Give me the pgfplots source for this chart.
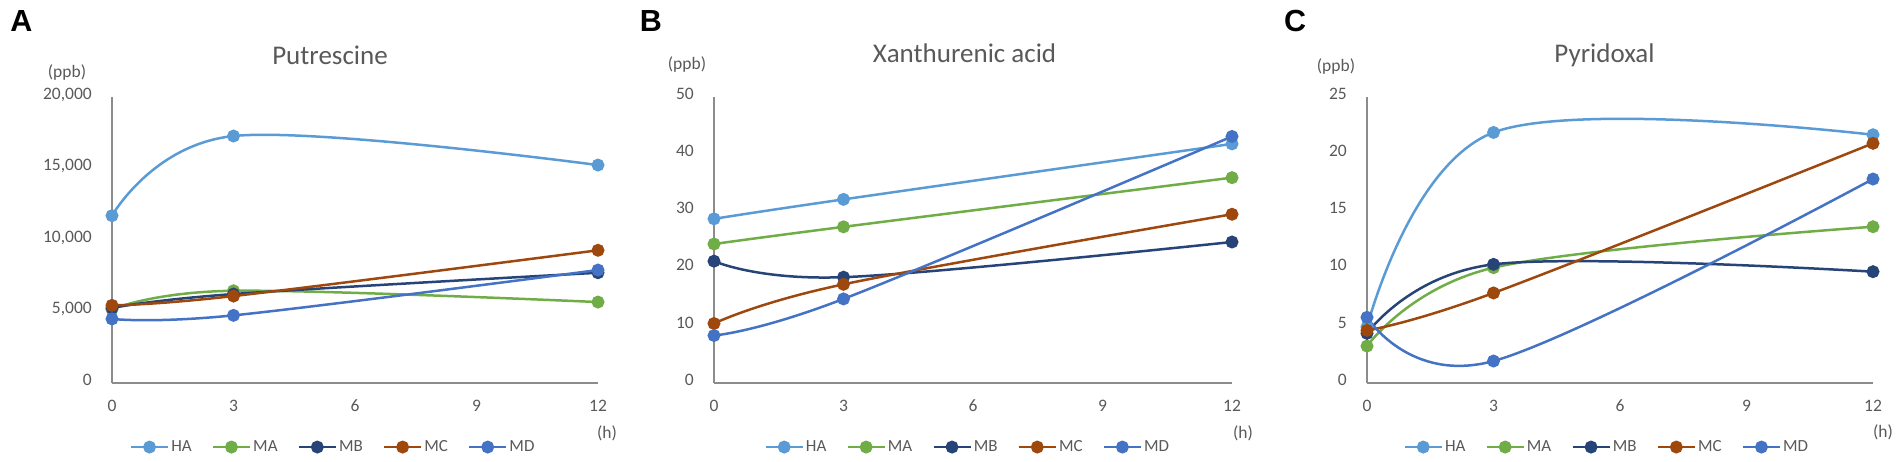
\documentclass[border=0pt]{standalone}
\usepackage{fontspec}
\setmainfont{Carlito}
\newfontfamily\letterfont{Liberation Sans}
\usepackage{pgfplots}
\pgfplotsset{compat=1.18}

\definecolor{cHA}{HTML}{5B9BD5}
\definecolor{cMA}{HTML}{70AD47}
\definecolor{cMB}{HTML}{264478}
\definecolor{cMC}{HTML}{9E480E}
\definecolor{cMD}{HTML}{4472C4}
\definecolor{txt}{HTML}{595959}
\definecolor{axc}{HTML}{8C8C8C}

\pgfplotsset{
  panel/.style={
    scale only axis, height=286pt,
    xmin=0, xmax=12, ymin=0,
    xtick={0,3,6,9,12},
    axis lines*=left,
    axis line style={axc, line width=1.4pt, -},
    major tick length=0pt,
    tick style={draw=none},
    clip=false,
    ticklabel style={font=\fontsize{17.5}{21}\selectfont, text=txt, inner sep=0pt},
    xticklabel style={anchor=base, yshift=-29pt},
    yticklabel style={anchor=mid east, xshift=-20pt},
    /pgf/number format/assume math mode=true,
    /pgf/number format/1000 sep={,},
    scaled y ticks=false,
    every axis plot/.append style={smooth, tension=0.6, line width=2.5pt,
      mark=*, mark size=5.2pt, mark options={solid}},
    legend columns=5,
    legend style={draw=none, fill=none, font=\fontsize{17}{20}\selectfont,
      text=txt, anchor=center,
      /tikz/every even column/.append style={column sep=18pt}},
    legend image code/.code={\draw[sharp plot, mark repeat=2, mark phase=2]
      plot coordinates {(0pt,0pt) (18.5pt,0pt) (37pt,0pt)};},
  }
}

\begin{document}
\begin{tikzpicture}[x=1pt,y=1pt]
\path[use as bounding box] (0,0) rectangle (1902,462);

% A: Putrescine
\begin{axis}[panel, at={(112pt,79pt)}, anchor=south west, width=486pt,
  ymax=20000, ytick={0,5000,10000,15000,20000},
  legend style={at={(0.455,-0.224)}}]
\addplot[cHA] coordinates {(0,11700) (3,17270) (12,15240)};
\addplot[cMA] coordinates {(0,5150) (3,6450) (12,5660)};
\addplot[cMB] coordinates {(0,5250) (3,6220) (12,7710)};
\addplot[cMC] coordinates {(0,5430) (3,6080) (12,9280)};
\addplot[cMD] coordinates {(0,4480) (3,4730) (12,7900)};
\legend{HA,MA,MB,MC,MD}
\end{axis}

% B: Xanthurenic acid
\begin{axis}[panel, at={(714pt,79pt)}, anchor=south west, width=518pt,
  ymax=50, ytick={0,10,20,30,40,50},
  legend style={at={(0.49,-0.224)}}]
\addplot[cHA] coordinates {(0,28.7) (3,32.1) (12,41.8)};
\addplot[cMA] coordinates {(0,24.3) (3,27.3) (12,35.9)};
\addplot[cMB] coordinates {(0,21.3) (3,18.5) (12,24.65)};
\addplot[cMC] coordinates {(0,10.4) (3,17.25) (12,29.5)};
\addplot[cMD] coordinates {(0,8.3) (3,14.7) (12,43.1)};
\legend{HA,MA,MB,MC,MD}
\end{axis}

% C: Pyridoxal
\begin{axis}[panel, at={(1367pt,79pt)}, anchor=south west, width=506pt,
  ymax=25, ytick={0,5,10,15,20,25},
  legend style={at={(0.474,-0.224)}}]
\addplot[cHA] coordinates {(0,4.9) (3,21.9) (12,21.7)};
\addplot[cMA] coordinates {(0,3.23) (3,10.08) (12,13.66)};
\addplot[cMB] coordinates {(0,4.34) (3,10.37) (12,9.73)};
\addplot[cMC] coordinates {(0,4.6) (3,7.87) (12,20.95)};
\addplot[cMD] coordinates {(0,5.74) (3,1.92) (12,17.83)};
\legend{HA,MA,MB,MC,MD}
\end{axis}

% titles, units, panel letters
\begin{scope}[every node/.style={text=txt, inner sep=0pt}]
\node[anchor=base, font=\fontsize{27}{32}\selectfont] at (330,397) {Putrescine};
\node[anchor=base, font=\fontsize{27}{32}\selectfont] at (964.5,399) {Xanthurenic acid};
\node[anchor=base, font=\fontsize{27}{32}\selectfont] at (1604.5,399) {Pyridoxal};
\node[font=\fontsize{17.5}{21}\selectfont] at (67,389) {(ppb)};
\node[font=\fontsize{17.5}{21}\selectfont] at (687,397) {(ppb)};
\node[font=\fontsize{17.5}{21}\selectfont] at (1336,395) {(ppb)};
\node[font=\fontsize{17.5}{21}\selectfont] at (607,29) {(h)};
\node[font=\fontsize{17.5}{21}\selectfont] at (1243,29) {(h)};
\node[font=\fontsize{17.5}{21}\selectfont] at (1883,30) {(h)};
\end{scope}
\begin{scope}[every node/.style={text=black, inner sep=0pt, font=\letterfont\bfseries\fontsize{30.5}{34}\selectfont}]
\node at (21.5,441) {A};
\node at (651,441) {B};
\node at (1295,441) {C};
\end{scope}
\end{tikzpicture}
\end{document}
